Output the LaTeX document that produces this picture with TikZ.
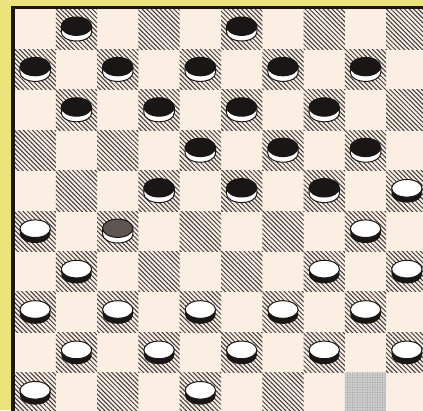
\documentclass[tikz,border=0pt]{standalone}
\usetikzlibrary{patterns.meta}
\definecolor{bgyellow}{HTML}{ECE37C}
\definecolor{cream}{HTML}{FBEEE3}
\definecolor{ink}{HTML}{1A1616}
\definecolor{graypiece}{HTML}{5E5553}
\tikzset{
  hatch/.style={pattern={Lines[angle=-45,distance=3.2pt,line width=1pt]},pattern color=ink!85},
}
\newcommand\PieceW[2]{%
  \pgfmathsetmacro\cx{14.5+(#2+0.5)*41.3}\pgfmathsetmacro\cy{9+(#1+0.5)*40.4}%
  \fill[ink] (\cx-15.2,\cy-2.5) -- (\cx-15.2,\cy+3) arc[start angle=180,end angle=0,x radius=15.2,y radius=8.8] -- (\cx+15.2,\cy-2.5) -- cycle;
  \filldraw[fill=white,draw=ink,line width=1pt] (\cx,\cy-2.5) ellipse[x radius=15.2,y radius=8.8];
}
\newcommand\PieceB[3]{%
  \pgfmathsetmacro\cx{14.5+(#2+0.5)*41.3}\pgfmathsetmacro\cy{9+(#1+0.5)*40.4}%
  \filldraw[fill=white,draw=ink,line width=1pt] (\cx-15.2,\cy-2.5) -- (\cx-15.2,\cy+3) arc[start angle=180,end angle=0,x radius=15.2,y radius=8.8] -- (\cx+15.2,\cy-2.5) -- cycle;
  \filldraw[fill=#3,draw=ink,line width=1pt] (\cx,\cy-3) ellipse[x radius=15.2,y radius=9.2];
}
\begin{document}
\begin{tikzpicture}[x=1pt,y=-1pt]
\useasboundingbox (0,0) rectangle (423,410);
\clip (0,0) rectangle (423,410);
\fill[bgyellow] (0,0) rectangle (423,410);
\fill[cream] (12.5,7.5) rectangle (440,430);
\foreach \r in {0,...,9}{
  \foreach \c in {0,...,9}{
    \pgfmathtruncatemacro\odd{mod(\r+\c,2)}
    \ifnum\odd=1
      \ifnum\r=9 \ifnum\c=8
        \fill[gray!40] ({14.5+\c*41.3},{9+\r*40.4}) rectangle ++(41.3,40.4);
        \fill[pattern={Dots[distance=2.5pt,radius=0.6pt]},pattern color=gray!80] ({14.5+\c*41.3},{9+\r*40.4}) rectangle ++(41.3,40.4);
      \else
        \fill[hatch] ({14.5+\c*41.3},{9+\r*40.4}) rectangle ++(41.3,40.4);
      \fi\else
        \fill[hatch] ({14.5+\c*41.3},{9+\r*40.4}) rectangle ++(41.3,40.4);
      \fi
    \fi
  }
}
\draw[ink,line width=3.5pt] (12.8,430) -- (12.8,7.6) -- (440,7.6);
% black pieces
\foreach \r/\c in {0/1,0/5,1/0,1/2,1/4,1/6,1/8,2/1,2/3,2/5,2/7,3/4,3/6,3/8,4/3,4/5,4/7}{
  \PieceB{\r}{\c}{ink}
}
\PieceB{5}{2}{graypiece}
% white pieces
\foreach \r/\c in {4/9,5/0,5/8,6/1,6/7,6/9,7/0,7/2,7/4,7/6,7/8,8/1,8/3,8/5,8/7,8/9,9/0,9/4}{
  \PieceW{\r}{\c}
}
\end{tikzpicture}
\end{document}
